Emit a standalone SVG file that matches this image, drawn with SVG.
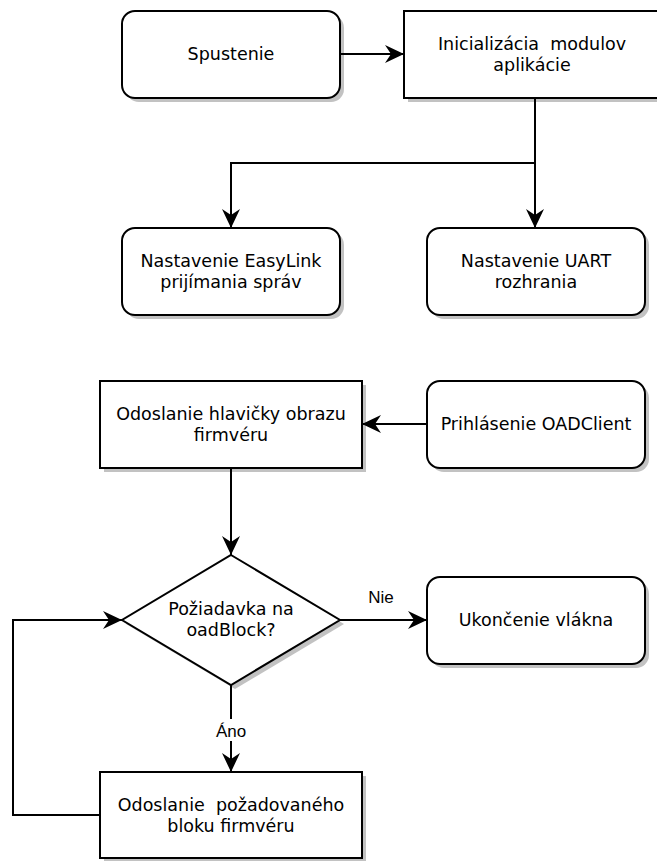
<svg xmlns="http://www.w3.org/2000/svg" width="657" height="861" viewBox="0 0 657 861">
  <style>
    .box { fill: #ffffff; stroke: #000000; stroke-width: 2; }
    .shadow { fill: #c2c2c2; stroke: none; }
    .txt { font-family: "DejaVu Sans", Verdana, sans-serif; font-size: 17.5px; fill: #000000; text-anchor: middle; }
    .lbl { font-family: "Liberation Sans", Arial, sans-serif; font-size: 17px; fill: #000000; text-anchor: middle; }
    .edge { fill: none; stroke: #000000; stroke-width: 2; }
  </style>
  <defs>
    <marker id="arrow" viewBox="0 0 19 18" refX="19" refY="9" markerWidth="19" markerHeight="18" orient="auto" markerUnits="userSpaceOnUse">
      <path d="M0,0 L19,9 L0,18 L6,9 Z" fill="#000000"/>
    </marker>
  </defs>
  <rect width="657" height="861" fill="#ffffff"/>

  <g id="spustenie">
    <rect class="shadow" x="126" y="15" width="218" height="87" rx="13"/>
    <rect class="box" x="122" y="11" width="218" height="87" rx="13"/>
    <text class="txt" x="231" y="60">Spustenie</text>
  </g>

  <g id="inicializacia">
    <rect class="shadow" x="408" y="15" width="256" height="87"/>
    <rect class="box" x="404" y="11" width="256" height="87"/>
    <text class="txt" x="532" y="50" xml:space="preserve">Inicializácia  modulov</text>
    <text class="txt" x="532" y="71">aplikácie</text>
  </g>

  <g id="easylink">
    <rect class="shadow" x="126" y="232" width="218" height="87" rx="13"/>
    <rect class="box" x="122" y="228" width="218" height="87" rx="13"/>
    <text class="txt" x="231" y="267">Nastavenie EasyLink</text>
    <text class="txt" x="231" y="288">prijímania správ</text>
  </g>

  <g id="uart">
    <rect class="shadow" x="431" y="232" width="218" height="87" rx="13"/>
    <rect class="box" x="427" y="228" width="218" height="87" rx="13"/>
    <text class="txt" x="536" y="267">Nastavenie UART</text>
    <text class="txt" x="536" y="288">rozhrania</text>
  </g>

  <g id="odoslanie-hlavicky">
    <rect class="shadow" x="104" y="385" width="262" height="87"/>
    <rect class="box" x="100" y="381" width="262" height="87"/>
    <text class="txt" x="231" y="420">Odoslanie hlavičky obrazu</text>
    <text class="txt" x="231" y="441">firmvéru</text>
  </g>

  <g id="prihlasenie">
    <rect class="shadow" x="431" y="385" width="218" height="87" rx="13"/>
    <rect class="box" x="427" y="381" width="218" height="87" rx="13"/>
    <text class="txt" x="536" y="430">Prihlásenie OADClient</text>
  </g>

  <g id="poziadavka">
    <polygon class="shadow" points="235,559 344,624 235,689 126,624"/>
    <polygon class="box" points="231,555 340,620 231,685 122,620"/>
    <text class="txt" x="231" y="615">Požiadavka na</text>
    <text class="txt" x="231" y="636">oadBlock?</text>
  </g>

  <g id="ukoncenie">
    <rect class="shadow" x="431" y="581" width="218" height="87" rx="13"/>
    <rect class="box" x="427" y="577" width="218" height="87" rx="13"/>
    <text class="txt" x="536" y="626">Ukončenie vlákna</text>
  </g>

  <g id="odoslanie-bloku">
    <rect class="shadow" x="104" y="776" width="262" height="86"/>
    <rect class="box" x="100" y="772" width="262" height="86"/>
    <text class="txt" x="231" y="811" xml:space="preserve">Odoslanie  požadovaného</text>
    <text class="txt" x="231" y="832">bloku firmvéru</text>
  </g>

  <!-- connectors, drawn last so they sit above the node shadows -->
  <g id="edges">
    <path class="edge" d="M340,54 H404" marker-end="url(#arrow)"/>
    <path class="edge" d="M535,98 V163 H231 V228" marker-end="url(#arrow)"/>
    <path class="edge" d="M535,163 V228" marker-end="url(#arrow)"/>
    <path class="edge" d="M427,424 H362" marker-end="url(#arrow)"/>
    <path class="edge" d="M231,468 V555" marker-end="url(#arrow)"/>
    <path class="edge" d="M340,620 H427" marker-end="url(#arrow)"/>
    <path class="edge" d="M231,685 V772" marker-end="url(#arrow)"/>
    <path class="edge" d="M100,815 H13 V620 H122" marker-end="url(#arrow)"/>
    <text class="lbl" x="381" y="603">Nie</text>
    <rect x="213" y="719" width="36" height="22" fill="#ffffff"/>
    <text class="lbl" x="231" y="737">Áno</text>
  </g>
</svg>
